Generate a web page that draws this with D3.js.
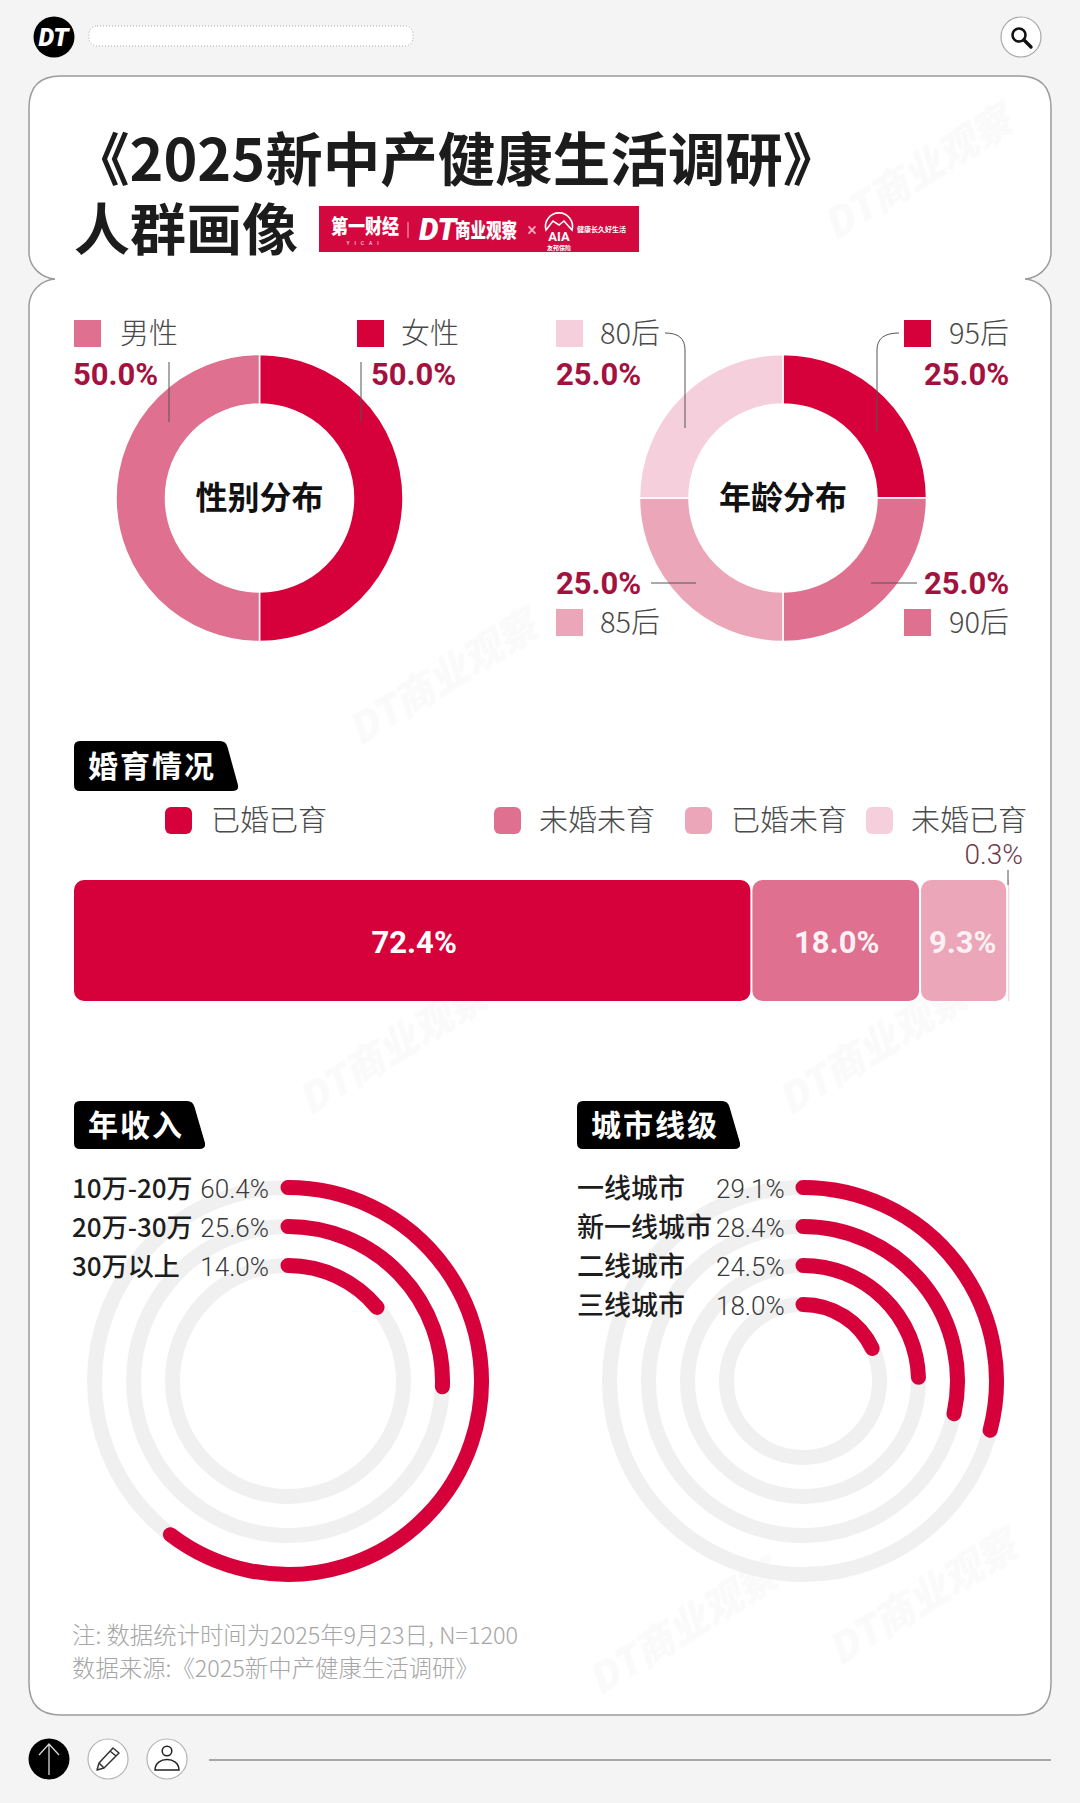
<!DOCTYPE html>
<html lang="zh">
<head>
<meta charset="utf-8">
<title>2025新中产健康生活调研 人群画像</title>
<script src="https://cdn.jsdelivr.net/npm/d3@7"></script>
<style>
  html, body { margin: 0; padding: 0; background: #f4f4f4; }
  svg { display: block; }
  text { font-family: "Noto Sans CJK SC", "Noto Sans", sans-serif; }
  .num { font-family: Roboto, "Noto Sans CJK SC", sans-serif; }
</style>
</head>
<body>
<svg id="chart" width="1080" height="1803"></svg>
<script>
// =========================
// DATA
// =========================
const genderLabels = ["女性", "男性"];
const genderValues = [50.0, 50.0];

const ageLabels = ["95后", "90后", "85后", "80后"];
const ageValues = [25.0, 25.0, 25.0, 25.0];

const marriageLabels = ["已婚已育", "未婚未育", "已婚未育", "未婚已育"];
const marriageValues = [72.4, 18.0, 9.3, 0.3];

const incomeLabels = ["10万-20万", "20万-30万", "30万以上"];
const incomeValues = [60.4, 25.6, 14.0];

const cityLabels = ["一线城市", "新一线城市", "二线城市", "三线城市"];
const cityValues = [29.1, 28.4, 24.5, 18.0];

const titleLines = ["《2025新中产健康生活调研》", "人群画像"];
const noteLines = ["注: 数据统计时间为2025年9月23日, N=1200", "数据来源:《2025新中产健康生活调研》"];

// =========================
// COLORI
// =========================
const reds = ["#d6003a", "#e0708f", "#eca6ba", "#f5cfdb"];
const numRed = "#a3123f";
const labelGrey = "#4a4a4a";

const svg = d3.select("#chart");
const pct = v => v.toFixed(1) + "%";

svg.append("rect").attr("width", 1080).attr("height", 1803).attr("fill", "#f4f4f4");

// =========================
// PANEL
// =========================
const panelPath = [
  "M61,76 H1019 Q1051,76 1051,108 V254",
  "C1050,268 1038,278 1025,279 C1038,280 1050,290 1051,305",
  "V1683 Q1051,1715 1019,1715 H61 Q29,1715 29,1683 V305",
  "C30,290 42,280 55,279 C42,278 30,268 29,254 V108 Q29,76 61,76 Z"
].join(" ");

svg.append("path").attr("d", panelPath)
  .attr("fill", "#fff").attr("stroke", "#9c9c9c").attr("stroke-width", 1.5);

// watermark
const wmSpots = [[925, 185], [450, 690], [400, 1060], [880, 1060], [690, 1640], [930, 1610]];
svg.append("g").selectAll("text").data(wmSpots).join("text")
  .attr("transform", d => `translate(${d[0]},${d[1]}) rotate(-32)`)
  .attr("text-anchor", "middle")
  .attr("font-size", 40).attr("font-weight", 900).attr("font-style", "italic")
  .attr("fill", "#000").attr("opacity", 0.014)
  .text("DT商业观察");

// =========================
// HEADER
// =========================
svg.append("circle").attr("cx", 54).attr("cy", 37).attr("r", 20.5).attr("fill", "#000");
svg.append("text").attr("class", "num").attr("x", 53.5).attr("y", 46)
  .attr("text-anchor", "middle").attr("font-size", 25).attr("font-weight", 900)
  .attr("font-style", "italic").attr("fill", "#fff").text("DT");

svg.append("rect").attr("x", 89).attr("y", 26).attr("width", 324).attr("height", 20).attr("rx", 8)
  .attr("fill", "#fff").attr("stroke", "#a8a8a8").attr("stroke-width", 1).attr("stroke-dasharray", "1 2");

svg.append("circle").attr("cx", 1021).attr("cy", 37).attr("r", 20)
  .attr("fill", "#fff").attr("stroke", "#a8a8a8").attr("stroke-width", 1.2);
svg.append("circle").attr("cx", 1019).attr("cy", 35).attr("r", 6.5)
  .attr("fill", "none").attr("stroke", "#111").attr("stroke-width", 2.6);
svg.append("line").attr("x1", 1024).attr("y1", 40).attr("x2", 1031).attr("y2", 47)
  .attr("stroke", "#111").attr("stroke-width", 3.4).attr("stroke-linecap", "round");

// =========================
// TITOLO
// =========================
svg.append("text").attr("x", 72).attr("y", 181).attr("font-size", 57.5).attr("font-weight", 700)
  .attr("fill", "#1c1c1c").text(titleLines[0]);
svg.append("text").attr("x", 74).attr("y", 250).attr("font-size", 56).attr("font-weight", 700)
  .attr("fill", "#1c1c1c").text(titleLines[1]);

// logo bar
const logo = svg.append("g");
logo.append("rect").attr("x", 319).attr("y", 206).attr("width", 320).attr("height", 46).attr("fill", "#d3083f");
logo.append("text").attr("x", 331).attr("y", 234).attr("font-size", 20).attr("font-weight", 900)
  .attr("textLength", 68).attr("lengthAdjust", "spacingAndGlyphs").attr("fill", "#fff").text("第一财经");
logo.append("text").attr("class", "num").attr("x", 365).attr("y", 245).attr("text-anchor", "middle")
  .attr("font-size", 5).attr("letter-spacing", 5).attr("fill", "#fff").text("YICAI");
logo.append("line").attr("x1", 408).attr("y1", 222).attr("x2", 408).attr("y2", 238)
  .attr("stroke", "#f3b3c4").attr("stroke-width", 1);
logo.append("text").attr("class", "num").attr("x", 419).attr("y", 240).attr("font-size", 31)
  .attr("font-weight", 900).attr("font-style", "italic").attr("fill", "#fff").text("DT");
logo.append("text").attr("x", 455).attr("y", 238).attr("font-size", 20).attr("font-weight", 900)
  .attr("textLength", 62).attr("lengthAdjust", "spacingAndGlyphs").attr("fill", "#fff").text("商业观察");
logo.append("text").attr("class", "num").attr("x", 532).attr("y", 236).attr("text-anchor", "middle")
  .attr("font-size", 18).attr("fill", "#f3b3c4").text("×");
logo.append("path").attr("d", "M546,230 A13.5,13.5 0 1 1 572,230 L564,221 L559,225 L553,221 Z")
  .attr("fill", "none").attr("stroke", "#fff").attr("stroke-width", 1.6);
logo.append("text").attr("class", "num").attr("x", 559).attr("y", 241).attr("text-anchor", "middle")
  .attr("font-size", 13).attr("font-weight", 700).attr("fill", "#fff").text("AIA");
logo.append("text").attr("x", 559).attr("y", 250).attr("text-anchor", "middle")
  .attr("font-size", 6).attr("font-weight", 700).attr("fill", "#fff").text("友邦保险");
logo.append("text").attr("x", 577).attr("y", 232).attr("font-size", 7).attr("font-weight", 700)
  .attr("fill", "#fff").text("健康长久好生活");

// =========================
// DONUT
// =========================
const pie = d3.pie().sort(null);
const donutArc = d3.arc().innerRadius(94).outerRadius(143.5);

function drawDonut(cx, cy, values, colors, title) {
  const g = svg.append("g").attr("transform", `translate(${cx},${cy})`);
  g.selectAll("path").data(pie(values)).join("path")
    .attr("d", donutArc)
    .attr("fill", (d, i) => colors[i])
    .attr("stroke", "#fff").attr("stroke-width", 1.5);
  g.append("text").attr("text-anchor", "middle").attr("y", 11)
    .attr("font-size", 32).attr("font-weight", 700).attr("fill", "#111").text(title);
}

function legendItem(x, y, color, label, textX, radius) {
  svg.append("rect").attr("x", x).attr("y", y).attr("width", 27).attr("height", 27)
    .attr("rx", radius || 0).attr("fill", color);
  svg.append("text").attr("x", textX).attr("y", y + 24).attr("font-size", 29).attr("font-weight", 300)
    .attr("fill", labelGrey).text(label);
}

function bigPct(x, y, value) {
  svg.append("text").attr("class", "num").attr("x", x).attr("y", y)
    .attr("font-size", 31).attr("font-weight", 700).attr("fill", numRed).text(pct(value));
}

function leader(d) {
  svg.append("path").attr("d", d).attr("fill", "none").attr("stroke", "#555").attr("stroke-width", 1);
}

drawDonut(259.5, 498, genderValues, [reds[0], reds[1]], "性别分布");
drawDonut(783, 498, ageValues, reds, "年龄分布");

// legenda genere
legendItem(74, 320, reds[1], genderLabels[1], 120);
legendItem(357, 320, reds[0], genderLabels[0], 401);
bigPct(73, 385, genderValues[1]);
bigPct(371, 385, genderValues[0]);
leader("M169,362 V422");
leader("M361,362 V422");

// legenda eta
legendItem(556, 320, reds[3], ageLabels[3], 600);
legendItem(904, 320, reds[0], ageLabels[0], 949);
legendItem(556, 609, reds[2], ageLabels[2], 600);
legendItem(904, 609, reds[1], ageLabels[1], 949);
bigPct(556, 385, ageValues[3]);
bigPct(924, 385, ageValues[0]);
bigPct(556, 594, ageValues[2]);
bigPct(924, 594, ageValues[1]);
leader("M665,333 C678,333 685,338 685,350 V428");
leader("M899,333 C885,333 877,338 877,350 V432");
leader("M651,583 H696");
leader("M871,583 H917");

// =========================
// TAG NERI
// =========================
function tag(x, y, w, h, label, spacing) {
  const slant = 12, r = 6;
  const d = `M${x + r},${y} H${x + w - slant - r} Q${x + w - slant},${y} ${x + w - slant + 1.5},${y + r}
    L${x + w},${y + h - r} Q${x + w + 1},${y + h} ${x + w - r},${y + h} H${x + r} Q${x},${y + h} ${x},${y + h - r}
    V${y + r} Q${x},${y} ${x + r},${y} Z`;
  svg.append("path").attr("d", d).attr("fill", "#000");
  svg.append("text").attr("x", x + 14).attr("y", y + h / 2 + 11)
    .attr("font-size", 30).attr("font-weight", 700).attr("letter-spacing", spacing || 0)
    .attr("fill", "#fff").text(label);
}

tag(74, 741, 164, 50, "婚育情况", 2);
tag(74, 1101, 131, 48, "年收入", 2);
tag(577, 1101, 163, 48, "城市线级", 2);

// =========================
// BARRA IMPILATA
// =========================
const barX = d3.scaleLinear().domain([0, 100]).range([74, 1011]);
const barStacks = d3.cumsum(marriageValues);
const barColors = reds;

const legendSwatchX = [165, 494, 685, 866];
const legendTextX = [211, 539, 731, 911];
marriageLabels.forEach((label, i) => {
  legendItem(legendSwatchX[i], 807, barColors[i], label, legendTextX[i], 6);
});

svg.append("g").selectAll("rect").data(marriageValues).join("rect")
  .attr("x", (d, i) => barX(barStacks[i] - d))
  .attr("y", 880)
  .attr("width", d => Math.max(barX(d) - barX(0) - 2, 1))
  .attr("height", 121)
  .attr("rx", d => d < 1 ? 0 : 10)
  .attr("fill", (d, i) => barColors[i]);

svg.append("g").selectAll("text").data(marriageValues.slice(0, 3)).join("text")
  .attr("class", "num")
  .attr("x", (d, i) => barX(barStacks[i] - d / 2) + [1, 0, -2][i])
  .attr("y", 953)
  .attr("text-anchor", "middle")
  .attr("font-size", 31).attr("font-weight", 700)
  .attr("fill", "#fff").attr("fill-opacity", (d, i) => [1, 0.92, 0.85][i])
  .text(pct);

svg.append("text").attr("class", "num").attr("x", 1023).attr("y", 864).attr("text-anchor", "end")
  .attr("font-size", 28).attr("font-weight", 300).attr("fill", "#6d3a4e").text(pct(marriageValues[3]));
leader("M1008,870 V885");

// =========================
// ANELLI RADIALI
// =========================
const angle = d3.scaleLinear().domain([0, 100]).range([0, 2 * Math.PI]);
const ringRadius = d3.scaleLinear().domain([0, 1]).range([193.5, 154.5]);
const ringWidth = 15;
const rowY = d3.scaleLinear().domain([0, 1]).range([1198, 1237]);

function drawRings(cx, cy, labels, values) {
  const g = svg.append("g").attr("transform", `translate(${cx},${cy})`);

  g.selectAll("circle").data(values).join("circle")
    .attr("r", (d, i) => ringRadius(i))
    .attr("fill", "none").attr("stroke", "#f0f0f0").attr("stroke-width", ringWidth);

  g.selectAll("path").data(values).join("path")
    .attr("d", (d, i) => {
      const p = d3.path();
      p.arc(0, 0, ringRadius(i), -Math.PI / 2, -Math.PI / 2 + angle(d));
      return p.toString();
    })
    .attr("fill", "none").attr("stroke", reds[0])
    .attr("stroke-width", ringWidth).attr("stroke-linecap", "round");
}

drawRings(288, 1381, incomeLabels, incomeValues);
drawRings(803, 1381, cityLabels, cityValues);

svg.append("g").selectAll("text").data(incomeLabels).join("text")
  .attr("x", 72).attr("y", (d, i) => rowY(i))
  .attr("font-size", 26).attr("font-weight", 500).attr("fill", "#1d1d1d")
  .text(d => d);
svg.append("g").selectAll("text").data(incomeValues).join("text")
  .attr("class", "num")
  .attr("x", 269).attr("y", (d, i) => rowY(i))
  .attr("text-anchor", "end")
  .attr("font-size", 26).attr("font-weight", 300).attr("fill", "#3a3a3a")
  .text(pct);

svg.append("g").selectAll("text").data(cityLabels).join("text")
  .attr("x", 577).attr("y", (d, i) => rowY(i))
  .attr("font-size", 27).attr("font-weight", 500).attr("fill", "#1d1d1d")
  .text(d => d);
svg.append("g").selectAll("text").data(cityValues).join("text")
  .attr("class", "num")
  .attr("x", 716).attr("y", (d, i) => rowY(i))
  .attr("font-size", 26).attr("font-weight", 300).attr("fill", "#3a3a3a")
  .text(pct);

// =========================
// NOTE
// =========================
svg.append("g").selectAll("text").data(noteLines).join("text")
  .attr("x", 72).attr("y", (d, i) => 1644 + i * 33)
  .attr("font-size", 23.4).attr("font-weight", 300).attr("fill", "#a6a6a6")
  .text(d => d);

// =========================
// FOOTER
// =========================
svg.append("circle").attr("cx", 49).attr("cy", 1759).attr("r", 20.5).attr("fill", "#000");
svg.append("path").attr("d", "M49,1775 V1744 M39,1755 L49,1744 L59,1755")
  .attr("fill", "none").attr("stroke", "#d8d8d8").attr("stroke-width", 1.3);

[108, 167].forEach(cx => {
  svg.append("circle").attr("cx", cx).attr("cy", 1759).attr("r", 20)
    .attr("fill", "#fff").attr("stroke", "#b4b4b4").attr("stroke-width", 1.2);
});
svg.append("path").attr("d", "M97,1770 L99,1763 L113,1748 L119,1753 L104,1768 Z M110,1751 L116,1756 M99,1763 L104,1768")
  .attr("fill", "none").attr("stroke", "#333").attr("stroke-width", 1.5).attr("stroke-linejoin", "round");
svg.append("circle").attr("cx", 167).attr("cy", 1751).attr("r", 4.8)
  .attr("fill", "none").attr("stroke", "#222").attr("stroke-width", 1.5);
svg.append("path").attr("d", "M155,1770 C155,1756 179,1756 179,1770 Z")
  .attr("fill", "none").attr("stroke", "#222").attr("stroke-width", 1.5);

svg.append("line").attr("x1", 209).attr("y1", 1760).attr("x2", 1051).attr("y2", 1760)
  .attr("stroke", "#8e8e8e").attr("stroke-width", 1.5);
</script>
</body>
</html>
